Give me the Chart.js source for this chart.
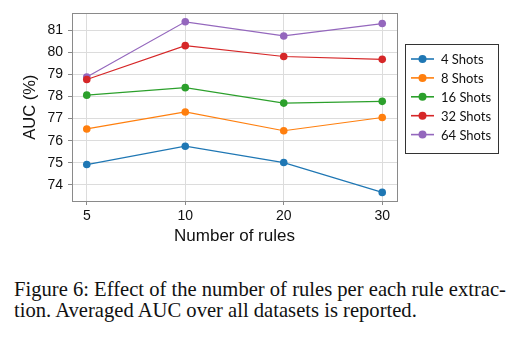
<!DOCTYPE html>
<html>
<head>
<meta charset="utf-8">
<script src="https://cdn.jsdelivr.net/npm/chart.js@4.4.1/dist/chart.umd.min.js"></script>
<style>
  body { margin: 0; background: #fff; width: 525px; height: 338px; overflow: hidden; position: relative; }
  #wrap { position: absolute; left: 0; top: 0; width: 525px; height: 250px; }
  .cap { position: absolute; left: 14px; font-family: "Liberation Serif", serif; font-size: 20.6px; line-height: 1; color: #111; white-space: nowrap; }
</style>
</head>
<body>
<div id="wrap"><canvas id="c" width="525" height="250"></canvas></div>
<div class="cap" style="top:279px">Figure 6: Effect of the number of rules per each rule extrac-</div>
<div class="cap" style="top:300px">tion. Averaged AUC over all datasets is reported.</div>
<script>
// data
const ruleCounts = ["5", "10", "20", "30"];
const shots4 = [74.92, 75.75, 75.01, 73.66];
const shots8 = [76.53, 77.30, 76.45, 77.05];
const shots16 = [78.06, 78.40, 77.70, 77.78];
const shots32 = [78.77, 80.30, 79.81, 79.68];
const shots64 = [78.88, 81.38, 80.74, 81.30];
const seriesNames = ["4 Shots", "8 Shots", "16 Shots", "32 Shots", "64 Shots"];
const colors = ["#1f77b4", "#ff7f0e", "#2ca02c", "#d62728", "#9467bd"];
const yTicks = [74, 75, 76, 77, 78, 79, 80, 81];

const allSeries = [shots4, shots8, shots16, shots32, shots64];

function toPoints(arr) {
  return arr.map((v, i) => ({ x: i, y: v }));
}

// frame around the plot area
const frame = {
  id: "frame",
  afterDraw(chart) {
    const a = chart.chartArea, ctx = chart.ctx;
    ctx.save();
    ctx.strokeStyle = "#8a8a8a";
    ctx.lineWidth = 1;
    ctx.strokeRect(Math.round(a.left) + 0.5, Math.round(a.top) + 0.5,
      Math.round(a.right - a.left), Math.round(a.bottom - a.top));
    ctx.restore();
  }
};

// boxed legend, line + marker
const boxLegend = {
  id: "boxLegend",
  afterDraw(chart) {
    const ctx = chart.ctx;
    ctx.save();
    ctx.strokeStyle = "#333";
    ctx.lineWidth = 1;
    ctx.strokeRect(405.5, 44.5, 93, 109);
    ctx.font = "13px Lato";
    ctx.textBaseline = "middle";
    chart.data.datasets.forEach((ds, i) => {
      const y = 59 + i * 18.9;
      ctx.strokeStyle = ds.borderColor;
      ctx.lineWidth = 1.6;
      ctx.beginPath();
      ctx.moveTo(411, y);
      ctx.lineTo(434, y);
      ctx.stroke();
      ctx.fillStyle = ds.borderColor;
      ctx.beginPath();
      ctx.arc(422.5, y, 4, 0, Math.PI * 2);
      ctx.fill();
      ctx.fillStyle = "#111";
      ctx.fillText(ds.label, 441, y + 1);
    });
    ctx.restore();
  }
};

new Chart(document.getElementById("c"), {
  type: "line",
  data: {
    datasets: allSeries.map((s, i) => ({
      label: seriesNames[i],
      data: toPoints(s),
      borderColor: colors[i],
      backgroundColor: colors[i],
      borderWidth: 1.2,
      pointRadius: 3.8,
      pointBorderWidth: 0,
      tension: 0
    }))
  },
  options: {
    responsive: false,
    animation: false,
    layout: { padding: { top: 12, right: 128, left: 0, bottom: 0 } },
    plugins: { legend: { display: false }, tooltip: { enabled: false } },
    scales: {
      x: {
        type: "linear",
        min: -0.15,
        max: 3.15,
        afterBuildTicks: s => { s.ticks = ruleCounts.map((_, i) => ({ value: i })); },
        afterFit: s => { s.height = 49; },
        ticks: {
          callback: v => ruleCounts[v],
          font: { family: "Liberation Sans", size: 14 },
          color: "#111",
          padding: 3,
          maxRotation: 0
        },
        grid: { color: "#dcdcdc", tickColor: "#8a8a8a", tickLength: 4 },
        border: { display: false },
        title: {
          display: true,
          text: "Number of rules",
          font: { family: "Liberation Sans", size: 17 },
          color: "#111",
          padding: { top: 0, bottom: 3 }
        }
      },
      y: {
        min: 73.27,
        max: 81.76,
        afterBuildTicks: s => { s.ticks = yTicks.map(v => ({ value: v })); },
        afterFit: s => { s.width = 72; },
        ticks: {
          font: { family: "Liberation Sans", size: 14 },
          color: "#111",
          padding: 5
        },
        grid: { color: "#dcdcdc", tickColor: "#8a8a8a", tickLength: 4 },
        border: { display: false },
        title: {
          display: true,
          text: "AUC (%)",
          font: { family: "Liberation Sans", size: 16.5 },
          color: "#111",
          padding: { top: 21, bottom: 0 }
        }
      }
    }
  },
  plugins: [frame, boxLegend]
});
</script>
</body>
</html>
